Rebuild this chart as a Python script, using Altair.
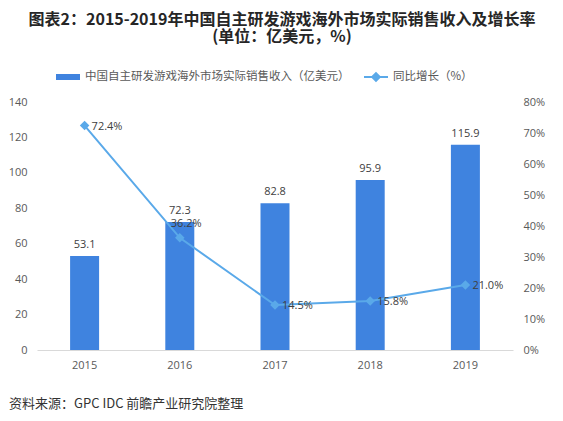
import altair as alt
import pandas as pd

years = ["2015", "2016", "2017", "2018", "2019"]
revenue = [53.1, 72.3, 82.8, 95.9, 115.9]
growth = [72.4, 36.2, 14.5, 15.8, 21.0]
bar_name = "中国自主研发游戏海外市场实际销售收入（亿美元）"
line_name = "同比增长（%）"
title_lines = ["图表2：2015-2019年中国自主研发游戏海外市场实际销售收入及增长率", "(单位：亿美元，%)"]
source_text = "资料来源：GPC IDC 前瞻产业研究院整理"
left_ticks = [0, 20, 40, 60, 80, 100, 120, 140]
right_ticks = [0, 10, 20, 30, 40, 50, 60, 70, 80]

FONT = "Noto Sans CJK SC"
NUMFONT = "Open Sans"
BAR = "#3f83df"
LINE = "#5aa9e9"
TXT = "#404040"
AX = "#595959"

df = pd.DataFrame({
    "year": years,
    "revenue": revenue,
    "growth": growth,
    "bar_series": bar_name,
    "line_series": line_name,
})
df["rev_label"] = [f"{r:.1f}" for r in revenue]
df["growth_label"] = [f"{g:.1f}%" for g in growth]

base = alt.Chart(df)

xenc = alt.X(
    "year:N",
    scale=alt.Scale(paddingInner=0.69, paddingOuter=0.345),
    axis=alt.Axis(title=None, labelAngle=0, domain=True, domainColor="#d9d9d9",
                  ticks=False, labelPadding=9, labelColor=AX, labelFontSize=11,
                  labelFont=NUMFONT),
)

yleft = alt.Y(
    "revenue:Q",
    scale=alt.Scale(domain=[0, 140]),
    axis=alt.Axis(title=None, values=left_ticks, grid=False, domain=False, ticks=False,
                  labelPadding=10, labelColor=AX, labelFontSize=11, labelFont=NUMFONT,
                  labelOverlap=False, labelFlush=False, orient="left"),
)

yright = alt.Y(
    "growth:Q",
    scale=alt.Scale(domain=[0, 80]),
    axis=alt.Axis(title=None, values=right_ticks, grid=False, domain=False, ticks=False,
                  labelPadding=10, labelColor=AX, labelFontSize=11, labelFont=NUMFONT,
                  labelOverlap=False, labelFlush=False, orient="right",
                  labelExpr="datum.value + '%'"),
)

bars = base.mark_bar(size=29).encode(
    x=xenc,
    y=yleft,
    fill=alt.Fill("bar_series:N",
                  scale=alt.Scale(domain=[bar_name], range=[BAR]),
                  legend=alt.Legend(orient="none", legendX=18, legendY=-38, title=None,
                                    symbolType="M-1,-0.25H1V0.25H-1Z", symbolSize=576,
                                    labelFontSize=11.5, labelColor=AX, labelFont=FONT,
                                    labelLimit=400, labelOffset=4, padding=0)),
)

bar_text = base.mark_text(baseline="bottom", dy=-6, fontSize=11, color=TXT, font=NUMFONT).encode(
    x=xenc,
    y=yleft,
    text="rev_label:N",
)

line = base.mark_line(
    strokeWidth=2,
    point=alt.OverlayMarkDef(shape="diamond", size=45, filled=True, color=LINE),
).encode(
    x=xenc,
    y=yright,
    stroke=alt.Stroke("line_series:N",
                      scale=alt.Scale(domain=[line_name], range=[LINE]),
                      legend=alt.Legend(orient="none", legendX=326, legendY=-38, title=None,
                                        symbolType="M-1,0H1M-0.32,0L0,-0.32L0.32,0L0,0.32Z",
                                        symbolSize=576, symbolStrokeWidth=2,
                                        symbolFillColor=LINE,
                                        labelFontSize=11.5, labelColor=AX, labelFont=FONT,
                                        labelLimit=300, labelOffset=4, padding=0)),
)

line_text_main = base.transform_filter("datum.year != '2016'").mark_text(
    align="left", baseline="middle", dx=7, dy=1, fontSize=11, color=TXT, font=NUMFONT
).encode(x=xenc, y=yright, text="growth_label:N")

line_text_2016 = base.transform_filter("datum.year == '2016'").mark_text(
    align="left", baseline="middle", dx=-9, dy=-14, fontSize=11, color=TXT, font=NUMFONT
).encode(x=xenc, y=yright, text="growth_label:N")

src = alt.Chart(pd.DataFrame({"t": [source_text]})).mark_text(
    align="left", baseline="middle", fontSize=13, color="#333333", font=FONT
).encode(x=alt.value(-28), y=alt.value(302), text="t:N")

chart = alt.layer(
    alt.layer(bars, bar_text),
    alt.layer(line, line_text_main, line_text_2016),
    src,
).resolve_scale(y="independent", fill="independent", stroke="independent").properties(
    width=476,
    height=248,
    padding={"left": 29, "top": 94, "right": 40, "bottom": 66},
    autosize=alt.AutoSizeParams(type="none"),
    title=alt.TitleParams(text=title_lines, fontSize=16, fontWeight="bold", color="#262626",
                          font=FONT, anchor="middle", frame="group", dx=7, offset=19,
                          lineHeight=17),
).configure_view(stroke=None).configure_axis(labelOverlap=False)

chart.save("out.html", embed_options={"renderer": "svg", "actions": False})
